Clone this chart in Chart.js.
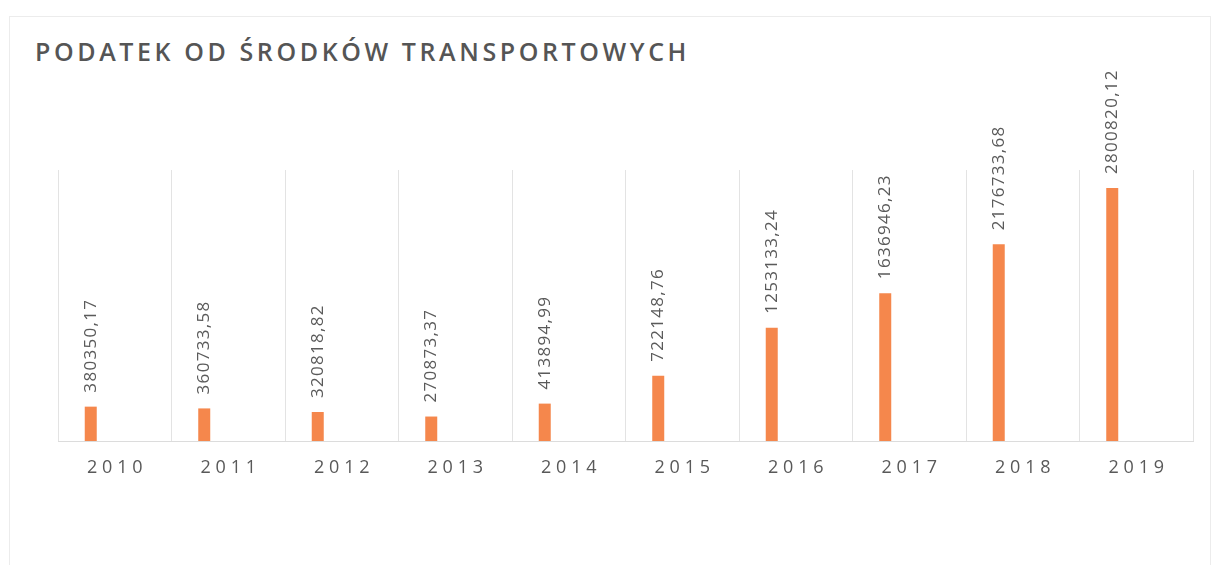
<!DOCTYPE html>
<html>
<head>
<meta charset="utf-8">
<script src="https://cdn.jsdelivr.net/npm/chart.js@4/dist/chart.umd.min.js"></script>
<style>
    html, body { margin: 0; padding: 0; background: #fff; }
    .wrap { position: relative; width: 1219px; height: 565px; }
    .frame { position: absolute; left: 9px; top: 16px; right: 8px; bottom: -4px; border: 1px solid #ececec; }
    h1 {
        position: absolute; left: 35px; top: 34px; margin: 0;
        font-family: 'Open Sans', sans-serif; font-weight: 600; font-size: 25px;
        letter-spacing: 3.6px; color: #555;
    }
    canvas { position: absolute; left: 0; top: 0; }
</style>
</head>
<body>
<div class="wrap">
    <div class="frame"></div>
    <h1>PODATEK OD ŚRODKÓW TRANSPORTOWYCH</h1>
    <canvas id="taxChart" width="1219" height="565"></canvas>
</div>
<script>
const years = ['2010', '2011', '2012', '2013', '2014', '2015', '2016', '2017', '2018', '2019'];
const taxValues = [380350.17, 360733.58, 320818.82, 270873.37, 413894.99, 722148.76, 1253133.24, 1636946.23, 2176733.68, 2800820.12];
const emptySeries = [null, null, null, null, null, null, null, null, null, null];
const yMax = 3000000;

// Rotated value labels above each bar (Polish decimal comma)
const valueLabels = {
    id: 'valueLabels',
    afterDatasetsDraw(chart) {
        const ctx = chart.ctx;
        const meta = chart.getDatasetMeta(0);
        ctx.save();
        ctx.font = "17px 'Open Sans', sans-serif";
        ctx.fillStyle = '#5a5a5a';
        ctx.textAlign = 'left';
        ctx.textBaseline = 'middle';
        if ('letterSpacing' in ctx) ctx.letterSpacing = '1.3px';
        meta.data.forEach((bar, i) => {
            const text = taxValues[i].toFixed(2).replace('.', ',');
            ctx.save();
            ctx.translate(bar.x, bar.y - 14);
            ctx.rotate(-Math.PI / 2);
            ctx.fillText(text, 0, 0);
            ctx.restore();
        });
        ctx.restore();
    }
};

const ctx = document.getElementById('taxChart').getContext('2d');
new Chart(ctx, {
    type: 'bar',
    data: {
        labels: years,
        datasets: [
            {
                label: 'Podatek',
                data: taxValues,
                backgroundColor: '#F5874C',
                barPercentage: 0.25,
                categoryPercentage: 0.846
            },
            {
                label: '',
                data: emptySeries,
                backgroundColor: 'transparent',
                barPercentage: 0.25,
                categoryPercentage: 0.846
            }
        ]
    },
    options: {
        responsive: false,
        animation: false,
        layout: { padding: { left: 58, right: 26, top: 170, bottom: 0 } },
        plugins: {
            legend: { display: false },
            tooltip: { enabled: false }
        },
        scales: {
            x: {
                afterFit: (scale) => { scale.height = 124; },
                grid: { color: '#e3e3e3', drawTicks: false, offset: true },
                border: { display: true, color: '#dcdcdc' },
                ticks: {
                    color: '#595959',
                    padding: 16,
                    font: { family: "'Open Sans', sans-serif", size: 18 },
                    callback: function (value) {
                        return this.getLabelForValue(value).split('').join('\u2009\u200a');
                    }
                }
            },
            y: {
                display: false,
                min: 0,
                max: yMax
            }
        }
    },
    plugins: [valueLabels]
});
</script>
</body>
</html>
